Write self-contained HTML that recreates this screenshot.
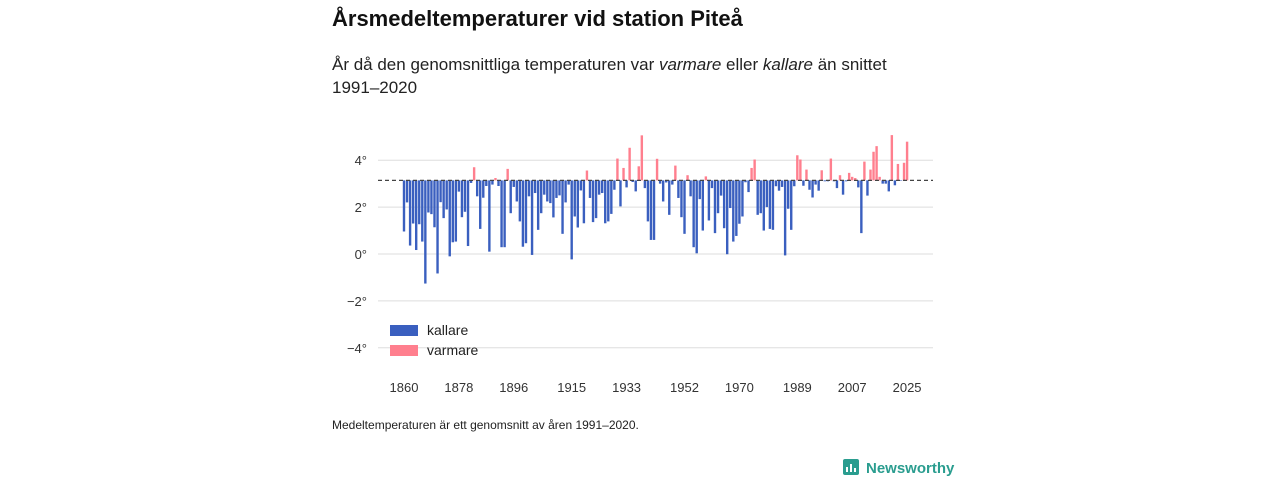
<!DOCTYPE html>
<html><head><meta charset="utf-8">
<style>
body{margin:0;width:1280px;height:480px;background:#fff;font-family:"Liberation Sans","DejaVu Sans",sans-serif;overflow:hidden;position:relative}
.t{position:absolute;left:332px;top:6px;font-size:22px;font-weight:bold;color:#111}
.s{position:absolute;left:332px;top:53px;font-size:17px;line-height:23px;color:#222;width:600px}
.f{position:absolute;left:332px;top:418px;font-size:12px;color:#222}
.logo{position:absolute;left:843px;top:459px;font-size:15px;font-weight:bold;color:#2a9d8f;display:flex;align-items:center;gap:5px}
</style></head><body>
<div class="t">Årsmedeltemperaturer vid station Piteå</div>
<div class="s">År då den genomsnittliga temperaturen var <i>varmare</i> eller <i>kallare</i> än snittet 1991–2020</div>
<svg id="c" width="1280" height="480" style="position:absolute;left:0;top:0"></svg>
<div class="f">Medeltemperaturen är ett genomsnitt av åren 1991–2020.</div>
<div class="logo"><svg width="18" height="18"><rect x="0" y="0" width="16" height="16" rx="2" fill="#2a9d8f"/><rect x="3" y="8" width="2" height="5" fill="#fff"/><rect x="7" y="5" width="2" height="8" fill="#fff"/><rect x="11" y="9" width="2" height="4" fill="#fff"/></svg>Newsworthy</div>
<script>
const startYear = 1860;
const temps = [0.96,2.2,0.36,1.3,0.17,1.27,0.53,-1.26,1.77,1.7,1.14,-0.83,2.21,1.53,1.9,-0.1,0.5,0.53,2.66,1.57,
1.8,0.34,3.03,3.7,2.46,1.07,2.4,2.9,0.1,2.96,3.24,2.9,0.29,0.29,3.63,1.74,2.86,2.24,1.39,0.31,
0.46,2.46,-0.04,2.6,1.03,1.74,2.53,2.24,2.17,1.56,2.39,2.5,0.86,2.2,2.96,-0.23,1.6,1.13,2.71,1.31,
3.56,2.39,1.36,1.53,2.53,2.6,1.31,1.39,1.71,2.74,4.07,2.03,3.67,2.84,4.53,3.07,2.67,3.74,5.06,2.81,
1.39,0.6,0.6,4.06,3.0,2.24,3.05,1.67,2.96,3.77,2.39,1.57,0.86,3.36,2.46,0.29,0.03,2.34,1.0,3.31,
1.43,2.81,0.89,1.74,2.49,1.1,-0.01,1.96,0.53,0.77,1.29,1.6,3.06,2.64,3.67,4.03,1.67,1.74,1.0,2.0,
1.07,1.03,2.89,2.7,2.86,-0.06,1.93,1.03,2.89,4.21,4.03,2.91,3.6,2.74,2.41,2.96,2.7,3.57,3.1,3.1,
4.07,3.1,2.81,3.36,2.53,3.1,3.46,3.29,3.24,2.84,0.89,3.94,2.49,3.6,4.36,4.6,3.29,3.0,3.0,2.67,
5.07,2.93,3.84,3.12,3.89,4.79];
const baseline = 3.14;
const yTicks = [4,2,0,-2,-4];
const yTickLabels = ["4°","2°","0°","−2°","−4°"];
const xTicks = [1860,1878,1896,1915,1933,1952,1970,1989,2007,2025];
const NS="http://www.w3.org/2000/svg";
const svg=document.getElementById('c');
const X=yr=>404+(yr-startYear)*3.049;
const Y=v=>254-23.45*v;
function mk(t,a){const e=document.createElementNS(NS,t);for(const k in a)e.setAttribute(k,a[k]);svg.appendChild(e);return e;}
yTicks.forEach((v,i)=>{
  const g=mk('line',{x1:378,x2:933,y1:Y(v),y2:Y(v),stroke:'#ddd','stroke-width':1});
  
  
  const t=mk('text',{x:367,y:Y(v)+5,'text-anchor':'end','font-size':13,fill:'#333'});
  t.textContent=yTickLabels[i];
  
  
});
xTicks.forEach(yr=>{
  const t=mk('text',{x:X(yr),y:392,'text-anchor':'middle','font-size':13,fill:'#333'});
  t.textContent=yr;
  
  
});
temps.forEach((v,i)=>{
  const warm=v>baseline;
  const y1=Y(Math.max(v,baseline)),y2=Y(Math.min(v,baseline));
  const r=mk('rect',{x:X(startYear+i)-1.2,y:y1,width:2.4,height:Math.max(0.5,y2-y1),fill:warm?'#ff7f8e':'#3a5fbf'});
  
  
});
const bl=mk('line',{x1:378,x2:933,y1:Y(baseline),y2:Y(baseline),stroke:'#444','stroke-width':1.3,'stroke-dasharray':'4,3'});


[['#3a5fbf','kallare',330],['#ff7f8e','varmare',350]].forEach(([c,l,y])=>{
  const r=mk('rect',{x:390,y:y-5,width:28,height:11,fill:c});
  
  
  const t=mk('text',{x:427,y:y+5,'font-size':14,fill:'#222'});
  t.textContent=l;
  
  
});
</script>
</body></html>
